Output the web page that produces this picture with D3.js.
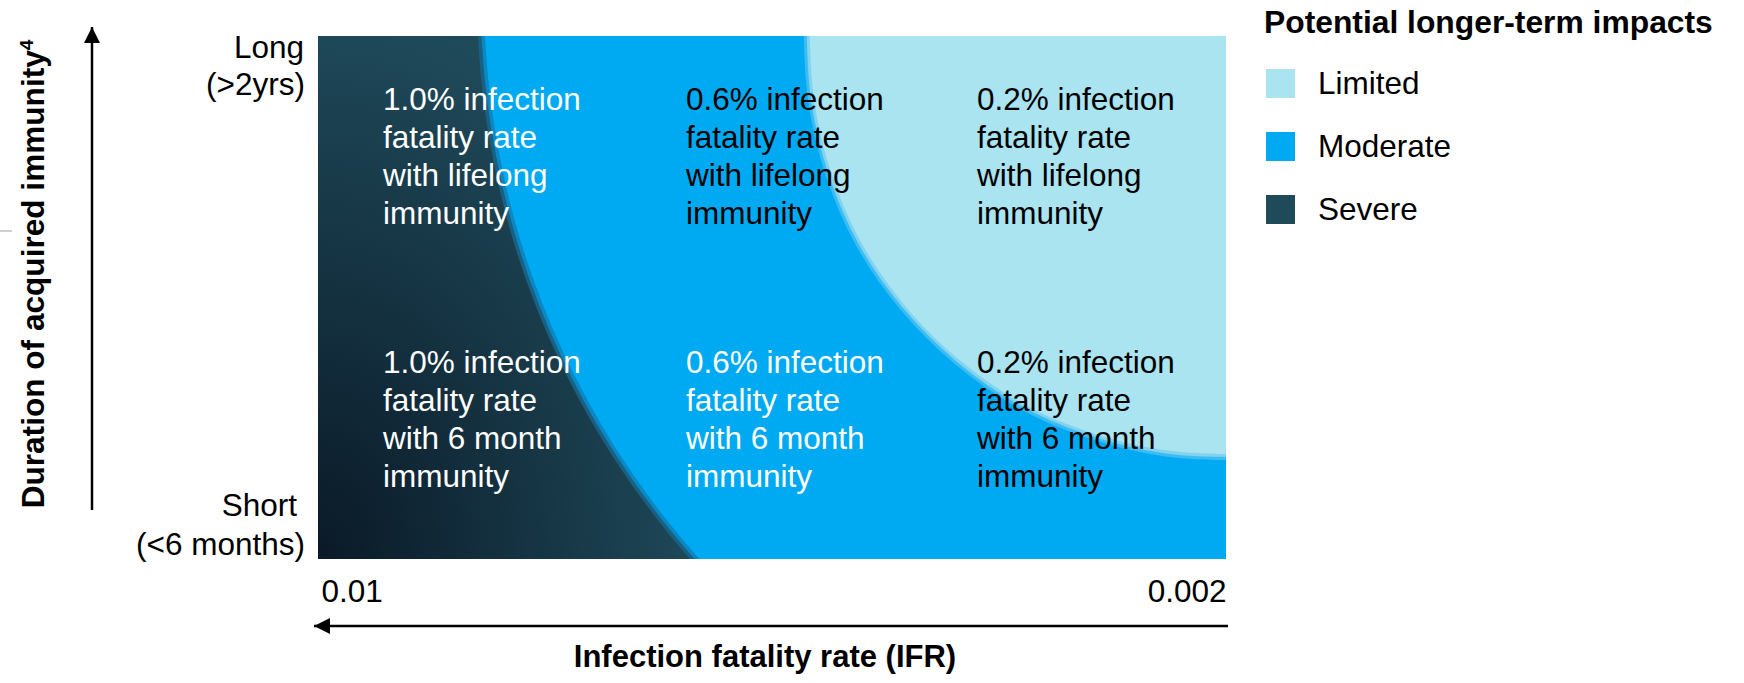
<!DOCTYPE html>
<html>
<head>
<meta charset="utf-8">
<script src="https://cdn.jsdelivr.net/npm/d3@7"></script>
<style>
  body { margin: 0; background: #fff; }
  svg { display: block; font-family: "Liberation Sans", Arial, sans-serif; }
</style>
</head>
<body>
<div id="chart"></div>
<script>
// x axis: infection fatality rate, y axis: months of acquired immunity
var ifrTicks = [0.01, 0.002];
var immunityTicks = [24, 6];
var immunityLabels = [["Long", "(>2yrs)"], ["Short", "(<6 months)"]];

// boundary between severe and moderate impact, [ifr, months]
var severeEdge = [
  [0.008590, 24.00], [0.008561, 22.49], [0.008503, 20.76], [0.008418, 19.04],
  [0.008307, 17.32], [0.008166, 15.60], [0.007994, 13.88], [0.007789, 12.16],
  [0.007547, 10.44], [0.007265, 8.72], [0.006937, 7.00], [0.006722, 6.00]
];

// boundary between moderate and limited impact, [ifr, months]
var limitedEdge = [
  [0.005667, 24.00], [0.005628, 21.76], [0.005474, 19.24], [0.005209, 16.86],
  [0.004829, 14.72], [0.004358, 12.88], [0.003809, 11.39], [0.003199, 10.36],
  [0.002555, 9.75], [0.002000, 9.61]
];

var scenarioIfr = ["1.0%", "0.6%", "0.2%"];
var scenarioImmunity = ["lifelong", "6 month"];

var impactLevels = ["Limited", "Moderate", "Severe"];
var impactColors = ["#a9e4f0", "#00aaf2", "#1f4a5a"];

var svgWidth = 1744;
var svgHeight = 683;
var plot = { left: 318, top: 36, right: 1226, bottom: 559 };

var svg = d3.select("#chart")
  .append("svg")
  .attr("width", svgWidth)
  .attr("height", svgHeight);

var x = d3.scaleLinear()
  .domain([ifrTicks[0], ifrTicks[1]])
  .range([plot.left, plot.right]);

var y = d3.scaleLinear()
  .domain([immunityTicks[1], immunityTicks[0]])
  .range([plot.bottom, plot.top]);

var defs = svg.append("defs");

defs.append("clipPath")
  .attr("id", "plotClip")
  .append("rect")
  .attr("x", plot.left)
  .attr("y", plot.top)
  .attr("width", plot.right - plot.left)
  .attr("height", plot.bottom - plot.top);

var grad = defs.append("radialGradient")
  .attr("id", "severeGrad")
  .attr("cx", 0).attr("cy", 1).attr("r", 1.05)
  .attr("fx", 0).attr("fy", 1);
grad.append("stop").attr("offset", 0).attr("stop-color", "#0a1927");
grad.append("stop").attr("offset", 1).attr("stop-color", "#1f4a5a");

var marker = defs.append("marker")
  .attr("id", "arrowHead")
  .attr("markerUnits", "userSpaceOnUse")
  .attr("viewBox", "0 0 10 10")
  .attr("refX", 10).attr("refY", 5)
  .attr("markerWidth", 16).attr("markerHeight", 16)
  .attr("orient", "auto");
marker.append("path").attr("d", "M0,0 L10,5 L0,10 Z").attr("fill", "#000");

var curve = d3.curveCatmullRom.alpha(0.5);

var plotGroup = svg.append("g").attr("clip-path", "url(#plotClip)");

// moderate impact fills the whole plot first
plotGroup.append("rect")
  .attr("x", plot.left)
  .attr("y", plot.top)
  .attr("width", plot.right - plot.left)
  .attr("height", plot.bottom - plot.top)
  .attr("fill", impactColors[1]);

var edgeLine = d3.line()
  .x(d => x(d[0]))
  .y(d => y(d[1]))
  .curve(curve);

// limited region, soft edge drawn as two strokes under the fill
plotGroup.append("path")
  .attr("d", edgeLine(limitedEdge))
  .attr("fill", "none")
  .attr("stroke", "#3cbcf1")
  .attr("stroke-width", 12)
  .attr("stroke-linecap", "square");
plotGroup.append("path")
  .attr("d", edgeLine(limitedEdge))
  .attr("fill", "none")
  .attr("stroke", "#82d3f0")
  .attr("stroke-width", 6)
  .attr("stroke-linecap", "square");

var limitedArea = d3.area()
  .y(d => y(d[1]))
  .x0(d => x(d[0]))
  .x1(x(ifrTicks[1]))
  .curve(curve);

plotGroup.append("path")
  .attr("d", limitedArea(limitedEdge))
  .attr("fill", impactColors[0]);

// severe region
plotGroup.append("path")
  .attr("d", edgeLine(severeEdge))
  .attr("fill", "none")
  .attr("stroke", "#0a88c4")
  .attr("stroke-width", 14)
  .attr("stroke-linecap", "square");
plotGroup.append("path")
  .attr("d", edgeLine(severeEdge))
  .attr("fill", "none")
  .attr("stroke", "#176185")
  .attr("stroke-width", 7)
  .attr("stroke-linecap", "square");

var severeArea = d3.area()
  .y(d => y(d[1]))
  .x0(x(ifrTicks[0]))
  .x1(d => x(d[0]))
  .curve(curve);

plotGroup.append("path")
  .attr("d", severeArea(severeEdge))
  .attr("fill", "url(#severeGrad)");

// scenario text blocks
var colX = d3.scaleOrdinal().domain(scenarioIfr).range([383, 686, 977]);
var rowY = d3.scalePoint().domain(scenarioImmunity).range([110, 373]);
var textColors = {
  "lifelong": ["#ffffff", "#000000", "#000000"],
  "6 month": ["#ffffff", "#ffffff", "#000000"]
};

scenarioImmunity.forEach(function(imm) {
  scenarioIfr.forEach(function(pct, i) {
    var lines = [pct + " infection", "fatality rate", "with " + imm, "immunity"];
    var t = svg.append("text")
      .attr("x", colX(pct))
      .attr("y", rowY(imm))
      .attr("font-size", 31.5)
      .attr("fill", textColors[imm][i]);
    t.selectAll("tspan")
      .data(lines)
      .enter()
      .append("tspan")
      .attr("x", colX(pct))
      .attr("dy", (d, j) => j === 0 ? 0 : 38)
      .text(d => d);
  });
});

// x axis tick labels
var xAxis = svg.append("g")
  .attr("transform", `translate(0, ${plot.bottom})`)
  .call(d3.axisBottom(x).tickValues(ifrTicks).tickSize(0).tickFormat(d => String(d)));
xAxis.select(".domain").remove();
xAxis.selectAll("text")
  .attr("y", 43)
  .attr("dy", 0)
  .attr("font-size", 31.5)
  .attr("font-family", "Liberation Sans, Arial, sans-serif")
  .attr("fill", "#000")
  .attr("text-anchor", (d, i) => i === 0 ? "start" : "end")
  .attr("dx", (d, i) => i === 0 ? 3 : 0);

// y axis labels
var yLabelOffsets = [[22, 59], [-43, -4]];
var yLabelRight = [plot.left - 14, plot.left - 21];
immunityTicks.forEach(function(m, i) {
  immunityLabels[i].forEach(function(label, j) {
    svg.append("text")
      .attr("x", j === 0 ? yLabelRight[i] : plot.left - 13)
      .attr("y", y(m) + yLabelOffsets[i][j])
      .attr("text-anchor", "end")
      .attr("font-size", 31.5)
      .attr("fill", "#000")
      .text(label);
  });
});

// axis arrows
svg.append("line")
  .attr("x1", 92).attr("y1", 510)
  .attr("x2", 92).attr("y2", 27)
  .attr("stroke", "#000")
  .attr("stroke-width", 2.5)
  .attr("marker-end", "url(#arrowHead)");

svg.append("line")
  .attr("x1", 1228).attr("y1", 626)
  .attr("x2", 314).attr("y2", 626)
  .attr("stroke", "#000")
  .attr("stroke-width", 2.5)
  .attr("marker-end", "url(#arrowHead)");

svg.append("line")
  .attr("x1", 0).attr("y1", 231)
  .attr("x2", 12).attr("y2", 231)
  .attr("stroke", "#a0a0a0")
  .attr("stroke-width", 1);

// axis titles
svg.append("text")
  .attr("x", 765)
  .attr("y", 667)
  .attr("text-anchor", "middle")
  .attr("font-size", 31)
  .attr("font-weight", "bold")
  .text("Infection fatality rate (IFR)");

var yTitle = svg.append("text")
  .attr("transform", "translate(44, 274) rotate(-90)")
  .attr("text-anchor", "middle")
  .attr("font-size", 31.6)
  .attr("font-weight", "bold");
yTitle.append("tspan").text("Duration of acquired immunity");
yTitle.append("tspan")
  .attr("dy", -11)
  .attr("font-size", 19)
  .text("4");

// legend
var legend = svg.append("g").attr("transform", "translate(1264, 0)");

legend.append("text")
  .attr("x", 0)
  .attr("y", 33)
  .attr("font-size", 31.8)
  .attr("font-weight", "bold")
  .text("Potential longer-term impacts");

var legendItems = legend.selectAll(".item")
  .data(impactLevels)
  .enter()
  .append("g")
  .attr("class", "item")
  .attr("transform", (d, i) => `translate(2, ${69 + i * 63})`);

legendItems.append("rect")
  .attr("width", 29)
  .attr("height", 29)
  .attr("fill", (d, i) => impactColors[i]);

legendItems.append("text")
  .attr("x", 52)
  .attr("y", 25)
  .attr("font-size", 31.5)
  .attr("fill", "#000")
  .text(d => d);
</script>
</body>
</html>
